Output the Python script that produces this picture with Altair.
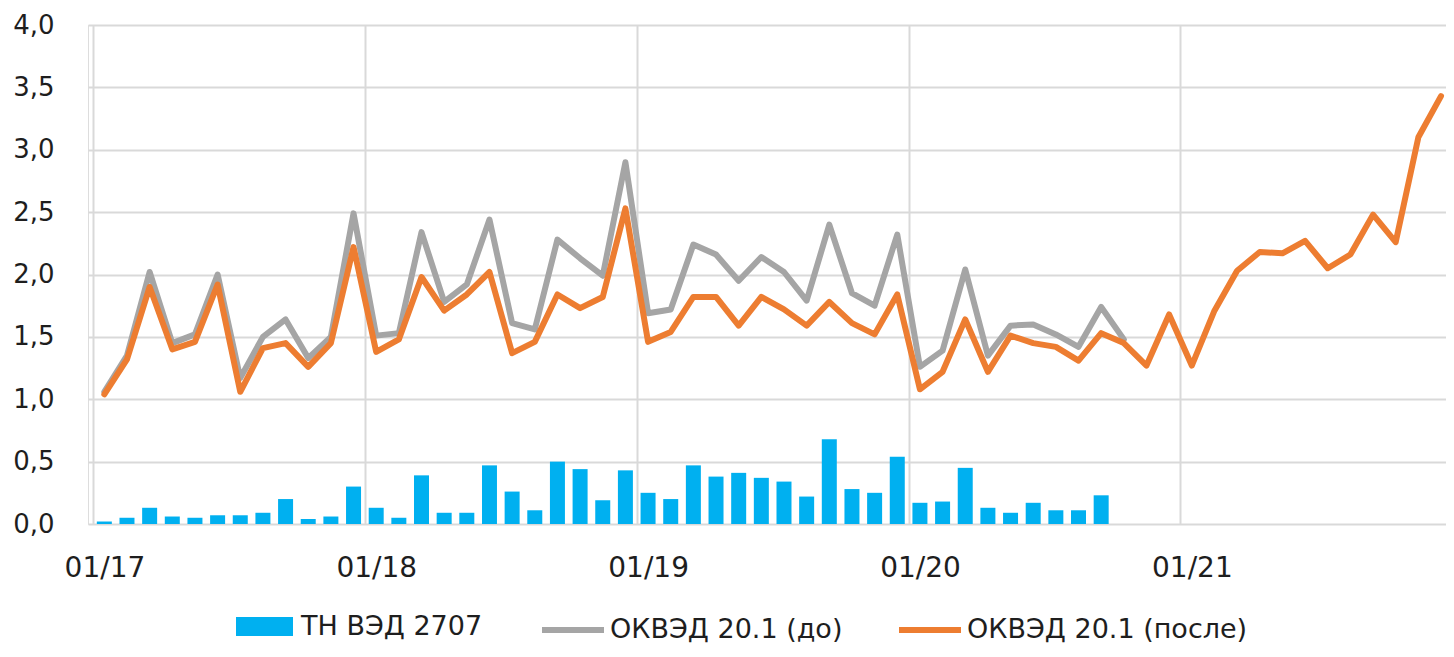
import altair as alt
import pandas as pd

# ---- data ----
months = [f"{m:02d}/{y}" for y in range(17, 22) for m in range(1, 13)]

bars_2707 = [0.02, 0.05, 0.13, 0.06, 0.05, 0.07, 0.07, 0.09, 0.20, 0.04, 0.06, 0.30,
             0.13, 0.05, 0.39, 0.09, 0.09, 0.47, 0.26, 0.11, 0.50, 0.44, 0.19, 0.43,
             0.25, 0.20, 0.47, 0.38, 0.41, 0.37, 0.34, 0.22, 0.68, 0.28, 0.25, 0.54,
             0.17, 0.18, 0.45, 0.13, 0.09, 0.17, 0.11, 0.11, 0.23]

okved_before = [1.06, 1.35, 2.02, 1.45, 1.52, 2.00, 1.17, 1.50, 1.64, 1.33, 1.50, 2.49,
                1.51, 1.53, 2.34, 1.78, 1.92, 2.44, 1.61, 1.56, 2.28, 2.13, 1.99, 2.90,
                1.69, 1.72, 2.24, 2.16, 1.95, 2.14, 2.02, 1.79, 2.40, 1.85, 1.75, 2.32,
                1.26, 1.39, 2.04, 1.35, 1.59, 1.60, 1.52, 1.42, 1.74, 1.48]

okved_after = [1.04, 1.32, 1.90, 1.40, 1.46, 1.92, 1.06, 1.41, 1.45, 1.26, 1.45, 2.22,
               1.38, 1.48, 1.98, 1.71, 1.84, 2.02, 1.37, 1.46, 1.84, 1.73, 1.82, 2.53,
               1.46, 1.54, 1.82, 1.82, 1.59, 1.82, 1.72, 1.59, 1.78, 1.61, 1.52, 1.84,
               1.08, 1.22, 1.64, 1.22, 1.51, 1.45, 1.42, 1.31, 1.53, 1.45, 1.27, 1.68,
               1.27, 1.71, 2.03, 2.18, 2.17, 2.27, 2.05, 2.16, 2.48, 2.26, 3.10, 3.43]

series_names = ["ТН ВЭД 2707", "ОКВЭД 20.1 (до)", "ОКВЭД 20.1 (после)"]
y_ticks = [0, 0.5, 1, 1.5, 2, 2.5, 3, 3.5, 4]
year_starts = [0, 12, 24, 36, 48]

n = len(months)


def pad(a):
    return a + [None] * (n - len(a))


df = pd.DataFrame({
    "month": months,
    "idx": list(range(n)),
    "bars": pad(bars_2707),
    "before": pad(okved_before),
    "after": okved_after,
})

FONT = "DejaVu Sans"
GRID = "#d9d9d9"
TXT = "#1e1e1e"
BLUE = "#00B0F0"
GRAY = "#A5A5A5"
ORANGE = "#ED7D31"

PAD_L = 80
W, H = 1358, 499
DOMAIN_MAX = 59.5
half_band = W / DOMAIN_MAX / 2

x_enc = alt.X(
    "pos:Q",
    scale=alt.Scale(domain=[0, DOMAIN_MAX], nice=False, zero=False),
    axis=alt.Axis(
        values=year_starts,
        labelExpr="'01/' + (17 + datum.value / 12)",
        labelOffset=half_band,
        labelFlush=False,
        labelOverlap=False,
        grid=True,
        gridColor=GRID,
        gridWidth=2,
        ticks=False,
        domain=False,
        labelFont=FONT,
        labelFontSize=28,
        labelColor=TXT,
        labelPadding=30,
        title=None,
    ),
)

y_scale = alt.Scale(domain=[0, 4], nice=False)
y_axis = alt.Axis(
    values=y_ticks,
    labelExpr="replace(format(datum.value, '.1f'), '.', ',')",
    grid=True,
    gridColor=GRID,
    gridWidth=2,
    ticks=False,
    domain=False,
    labelFont=FONT,
    labelFontSize=26,
    labelColor=TXT,
    labelPadding=34,
    title=None,
)

base = alt.Chart(df).transform_calculate(pos="datum.idx + 0.5")

bars = base.transform_filter("isValid(datum.bars)").transform_calculate(
    series=f"'{series_names[0]}'"
).mark_bar(size=15).encode(
    x=x_enc,
    y=alt.Y("bars:Q", scale=y_scale, axis=y_axis),
    fill=alt.Fill(
        "series:N",
        scale=alt.Scale(domain=[series_names[0]], range=[BLUE]),
        legend=alt.Legend(
            orient="none",
            legendX=148,
            legendY=573,
            direction="horizontal",
            title=None,
            symbolType="M-1,-0.333H1V0.333H-1Z",
            symbolSize=3249,
            symbolStrokeWidth=0,
            symbolOpacity=1,
            labelFont=FONT,
            labelFontSize=27,
            labelColor=TXT,
            labelOffset=8,
            labelLimit=0,
        ),
    ),
)

stroke_enc = alt.Stroke(
    "series:N",
    scale=alt.Scale(domain=series_names[1:], range=[GRAY, ORANGE]),
    legend=alt.Legend(
        orient="none",
        legendX=451,
        legendY=571,
        direction="horizontal",
        title=None,
        symbolType="stroke",
        symbolSize=3844,
        symbolStrokeWidth=6,
        labelFont=FONT,
        labelFontSize=27,
        labelColor=TXT,
        labelOffset=3,
        labelLimit=0,
        columnPadding=44,
    ),
)

line_before = base.transform_filter("isValid(datum.before)").transform_calculate(
    series=f"'{series_names[1]}'"
).mark_line(strokeWidth=6, strokeJoin="round", strokeCap="round").encode(
    x=x_enc,
    y=alt.Y("before:Q", scale=y_scale, axis=y_axis),
    stroke=stroke_enc,
)

line_after = base.transform_calculate(
    series=f"'{series_names[2]}'"
).mark_line(strokeWidth=6, strokeJoin="round", strokeCap="round").encode(
    x=x_enc,
    y=alt.Y("after:Q", scale=y_scale, axis=y_axis),
    stroke=stroke_enc,
)

chart = alt.layer(bars, line_before, line_after).properties(
    width=W,
    height=H,
    padding={"left": PAD_L, "top": 17, "right": 0, "bottom": 121},
    autosize=alt.AutoSizeParams(type="none"),
).configure_view(stroke=None).configure(background="white")

chart.save("out.html", embed_options={"renderer": "svg", "actions": False})
